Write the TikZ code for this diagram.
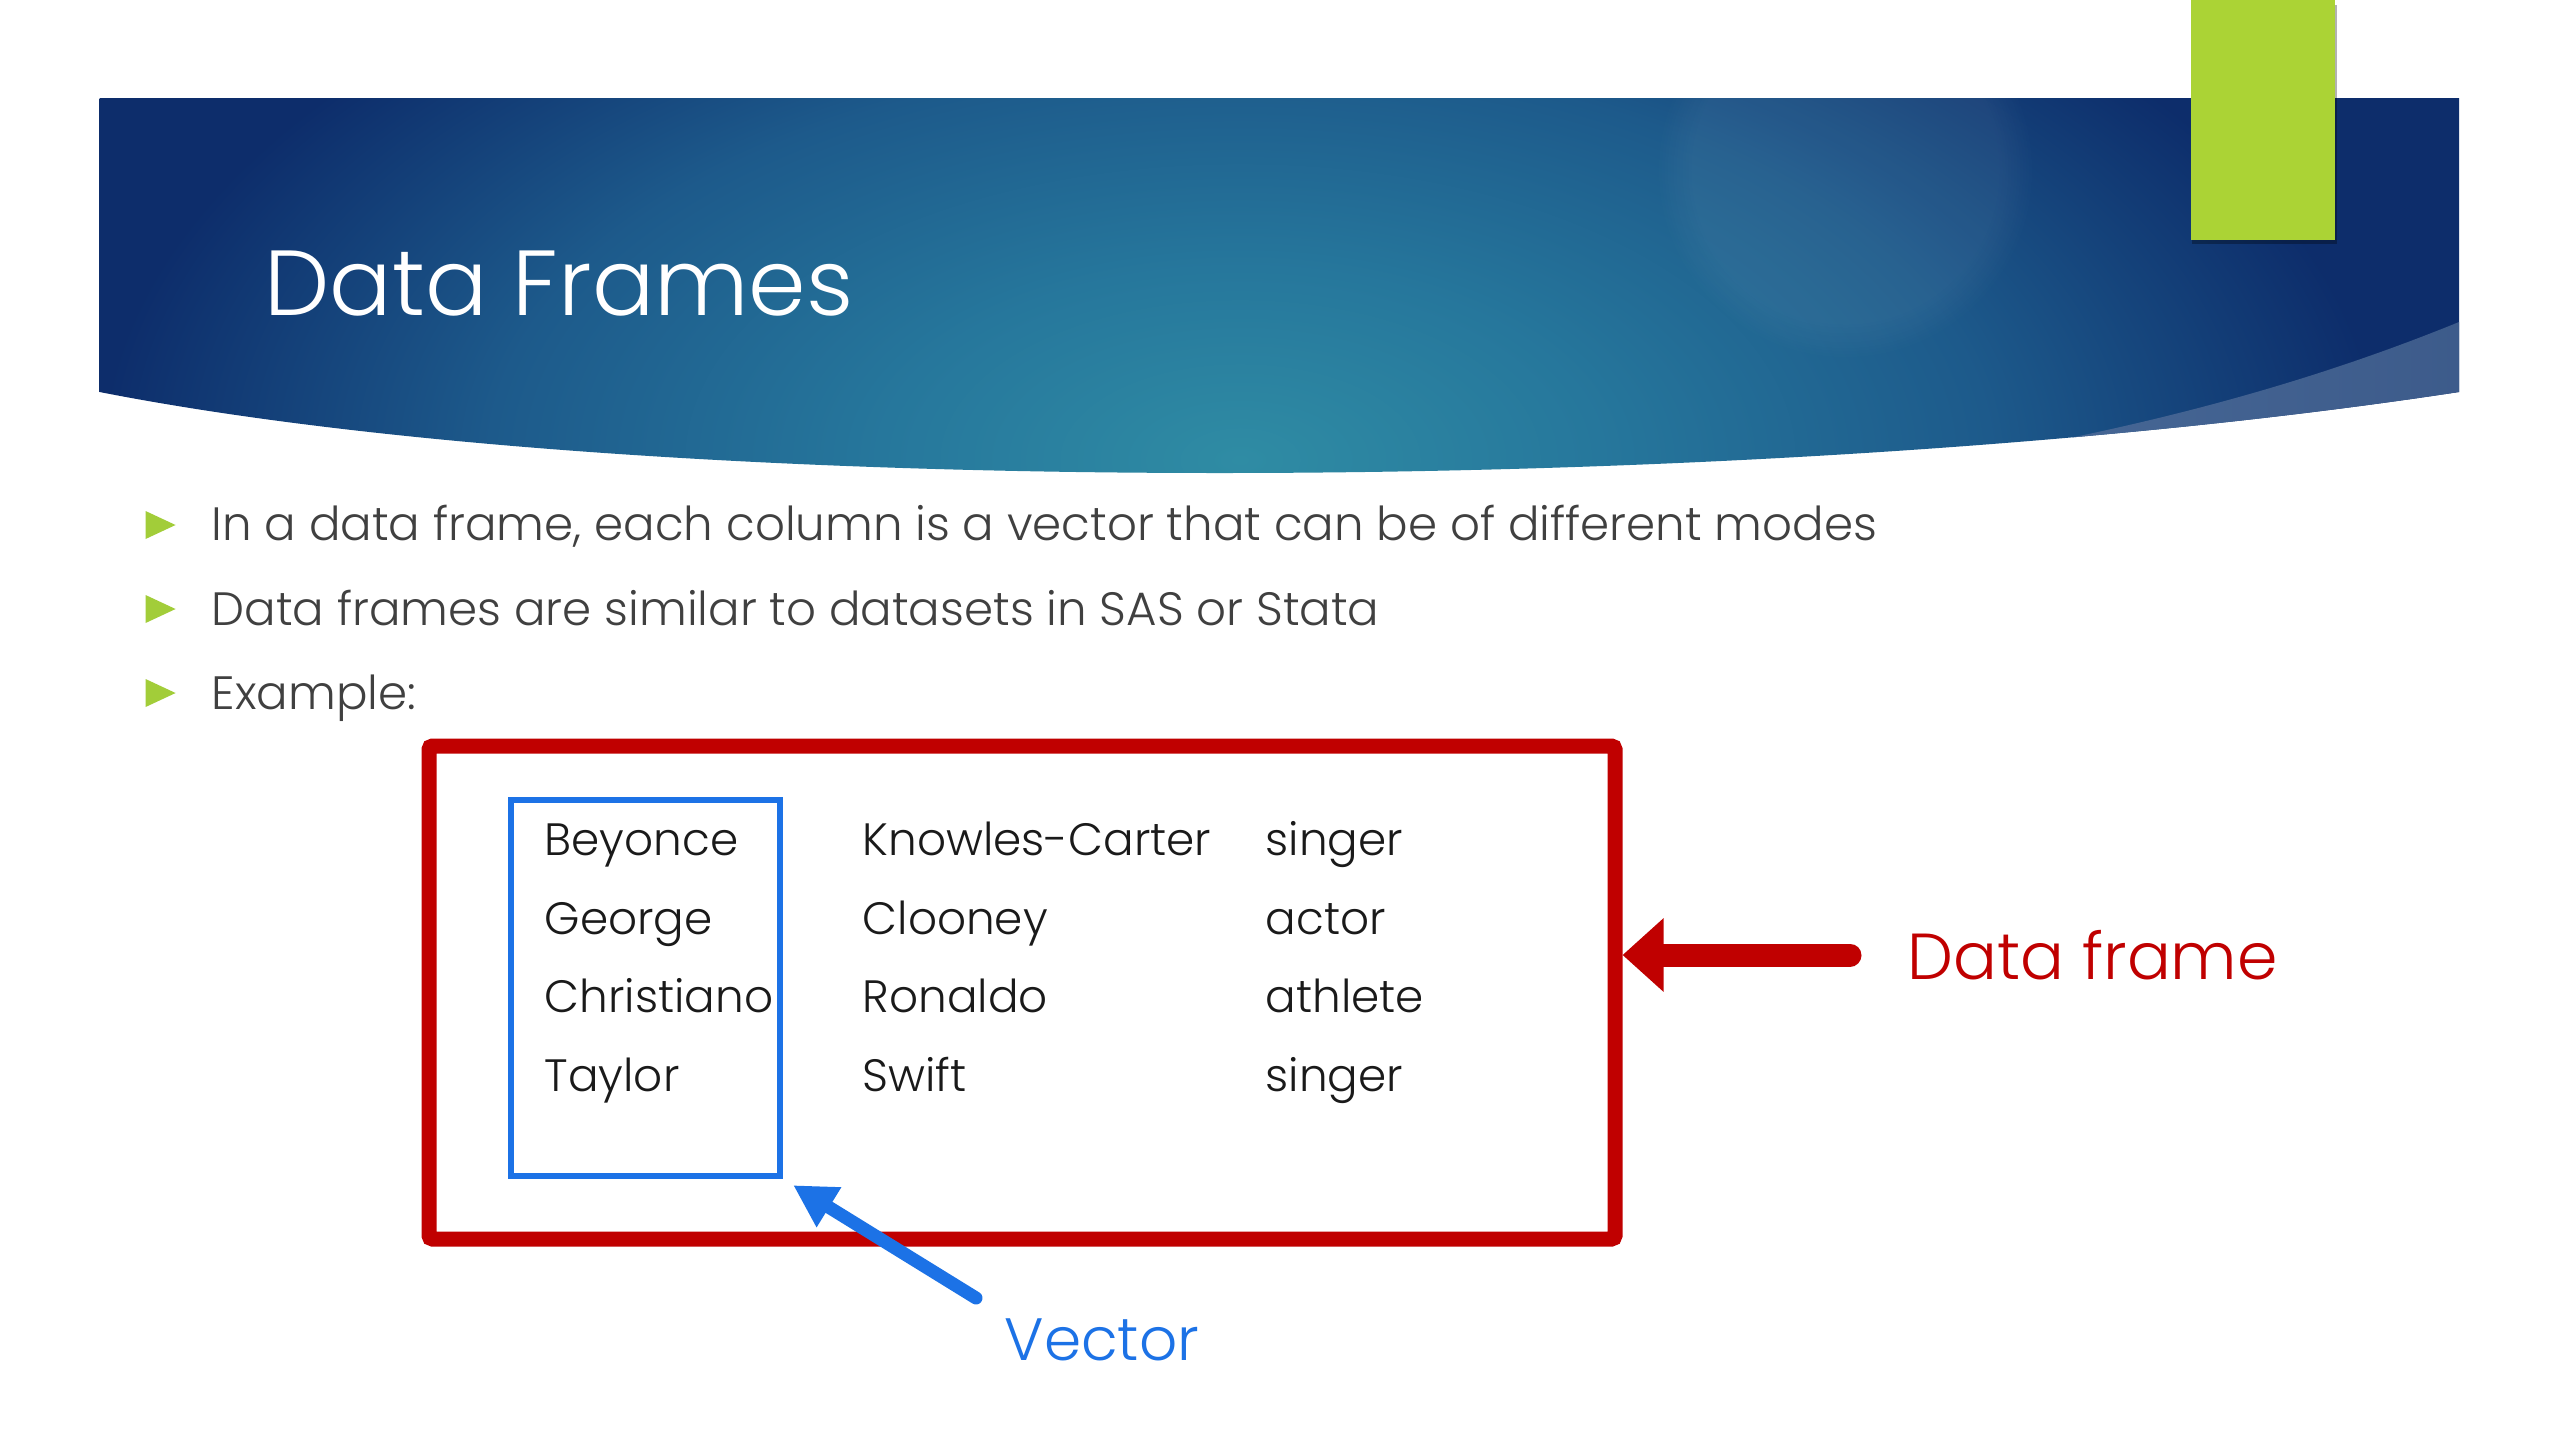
\documentclass[tikz,border=0pt]{standalone}
\usepackage{fontspec}
\setmainfont{Poppins Light}
\usetikzlibrary{positioning,arrows.meta,shapes.geometric,fadings}

\definecolor{hdrnavy}{HTML}{0D2D6B}
\definecolor{hdrmid}{HTML}{1D5A8B}
\definecolor{hdrblue}{HTML}{26779C}
\definecolor{hdrteal}{HTML}{2F8CA4}
\definecolor{arcleft}{HTML}{4B6D9A}
\definecolor{arcright}{HTML}{3C5A8A}
\definecolor{tabgreen}{HTML}{ABD335}
\definecolor{bulletgreen}{HTML}{A2CD39}
\definecolor{textgray}{HTML}{404040}
\definecolor{celltext}{HTML}{1A1A1A}
\definecolor{dfred}{HTML}{C00000}
\definecolor{vecblue}{HTML}{1C72E6}

\pgfdeclareradialshading{hdrglow}{\pgfpoint{0bp}{0bp}}{%
  color(0bp)=(hdrteal); color(6bp)=(hdrblue); color(12.5bp)=(hdrmid);
  color(19bp)=(hdrnavy); color(100bp)=(hdrnavy)}

\begin{document}
\begin{tikzpicture}[
  titletext/.style={anchor=base west, inner sep=0pt, text=white, font=\fontsize{26.3}{32}\selectfont},
  bullet/.style={isosceles triangle, isosceles triangle stretches, fill=bulletgreen, inner sep=0pt, minimum width=0.28cm, minimum height=0.30cm},
  bullettext/.style={anchor=base west, inner sep=0pt, text=textgray, font=\fontsize{13.3}{16}\selectfont},
  cell/.style={anchor=base west, inner sep=0pt, text=celltext, font=\fontsize{12.9}{16}\selectfont},
  dfbox/.style={draw=dfred, line width=0.15cm, rounded corners=1pt, inner sep=0pt, minimum width=11.86cm, minimum height=4.93cm},
  vecbox/.style={draw=vecblue, line width=0.065cm, inner sep=0pt, minimum width=2.69cm, minimum height=3.76cm},
  dfarrow/.style={draw=dfred, line width=0.23cm, line cap=round, -{Triangle[length=0.41cm, width=0.71cm]}},
  vecarrow/.style={draw=vecblue, line width=0.13cm, line cap=round, -{Triangle[length=0.42cm, width=0.44cm]}}
]
\useasboundingbox (0,0) rectangle (25.6,-14.4);
\fill[white] (0,0) rectangle (25.6,-14.4);

% header band
\begin{scope}
  \clip (0.996,-0.98) -- (24.59,-0.98) -- (24.59,-3.92)
    .. controls (17.5,-5.0) and (6.5,-5.0) .. (0.996,-3.92) -- cycle;
  \shade[shading=hdrglow] (-2.6,3.4) rectangle (27.4,-12.6);
  \fill[white, fill opacity=0.05, path fading=circle with fuzzy edge 20 percent] (18.45,-1.7) circle (1.9);
  \shade[left color=arcleft, right color=arcright] (24.59,-3.22) .. controls (22.8,-3.95) and (20.8,-4.45) .. (18.2,-4.8)
    -- (25,-5.2) -- (25,-3.2) -- cycle;
\end{scope}

% green tab
\fill[black, opacity=0.3] (21.92,-0.05) rectangle (23.37,-2.44);
\fill[tabgreen] (21.91,0) rectangle (23.35,-2.40);

\node[titletext] (title) at (2.64,-3.15) {Data Frames};

% bullets
\node[bullet] (b1) at (1.545,-5.25) {};
\node[bullet] (b2) at (1.545,-6.09) {};
\node[bullet] (b3) at (1.545,-6.93) {};
\node[bullettext] (t1) at (2.11,-5.40) {In a data frame, each column is a vector that can be of different modes};
\node[bullettext] (t2) at (2.11,-6.25) {Data frames are similar to datasets in SAS or Stata};
\node[bullettext] (t3) at (2.11,-7.09) {Example:};

% data frame
\node[dfbox] (frame) at (10.22,-9.925) {};
\node[vecbox] (vec) at (6.455,-9.88) {};

\node[cell] (first1) at (5.44,-8.55) {Beyonce};
\node[cell] (first2) at (5.44,-9.34) {George};
\node[cell] (first3) at (5.44,-10.12) {Christiano};
\node[cell] (first4) at (5.44,-10.91) {Taylor};
\node[cell] (last1) at (8.62,-8.55) {Knowles-Carter};
\node[cell] (last2) at (8.62,-9.34) {Clooney};
\node[cell] (last3) at (8.62,-10.12) {Ronaldo};
\node[cell] (last4) at (8.62,-10.91) {Swift};
\node[cell] (job1) at (12.65,-8.55) {singer};
\node[cell] (job2) at (12.65,-9.34) {actor};
\node[cell] (job3) at (12.65,-10.12) {athlete};
\node[cell] (job4) at (12.65,-10.91) {singer};

% labels
\node[anchor=west, inner sep=0pt, text=dfred, font=\fontsize{18.5}{22}\selectfont] (dflabel) at (19.07,-9.55) {Data frame};
\node[anchor=west, inner sep=0pt, text=vecblue, font=\fontsize{17}{20}\selectfont] (veclabel) at (10.04,-13.40) {Vector};
\coordinate (vectail) at (9.76,-12.98);

\draw[dfarrow] ([xshift=-0.57cm]dflabel.west) -- (dflabel.west -| frame.east);
\draw[vecarrow] (vectail) -- ([shift={(0.1,-0.06)}]vec.south east);
\end{tikzpicture}
\end{document}
